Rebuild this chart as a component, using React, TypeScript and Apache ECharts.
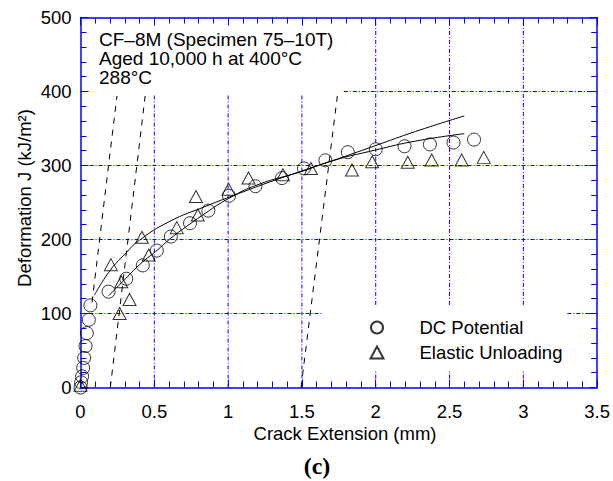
import React, { useEffect, useRef } from "react";
import * as echarts from "echarts";

// ---- data ----
const xTickMax = 3.5;
const yTickMax = 500;
const xGridValues = [0.5, 1, 1.5, 2, 2.5, 3];
const yGridValues = [100, 200, 300, 400];

const dcPotential: number[][] = [
  [0, 0], [0.004, 7], [0.011, 15], [0.018, 26.5], [0.025, 40], [0.034, 56], [0.043, 73.5],
  [0.056, 91.5], [0.067, 111], [0.19, 129.5], [0.31, 147], [0.422, 165], [0.517, 185],
  [0.612, 204], [0.742, 222], [0.866, 239], [1.006, 259], [1.185, 272], [1.365, 283],
  [1.514, 296], [1.659, 307], [1.811, 318], [2.0, 322], [2.195, 326], [2.367, 328.5],
  [2.527, 331], [2.666, 335],
];

const elasticUnloading: number[][] = [
  [0, 3], [0.206, 166], [0.265, 100], [0.276, 143], [0.332, 119], [0.416, 203],
  [0.462, 179], [0.652, 216], [0.782, 258], [0.795, 233], [1.003, 268], [1.138, 283],
  [1.371, 287.5], [1.561, 296], [1.839, 294], [1.976, 305], [2.217, 304.3],
  [2.379, 307.5], [2.582, 307.5], [2.732, 311],
];

const fitUpper: number[][] = [
  [0.095, 125], [0.2, 158], [0.3, 180], [0.4, 199], [0.6, 224], [0.85, 245],
  [1.07, 262], [1.3, 279], [1.52, 294], [1.7, 306], [2.0, 327], [2.27, 346], [2.6, 367],
];

const fitLower: number[][] = [
  [0.19, 124], [0.3, 146], [0.4, 166], [0.51, 184], [0.62, 203], [0.735, 220],
  [0.85, 236], [1.0, 255], [1.2, 274], [1.5, 292], [1.7, 306], [2.0, 321],
  [2.27, 333], [2.6, 343],
];

const bluntingLine: number[][] = [[0.078, 115], [0.247, 394]];
const exclusionLine1: number[][] = [[0.202, 0], [0.438, 394]];
const exclusionLine2: number[][] = [[1.494, 0], [1.74, 394]];

const annotation = ["CF\u20138M (Specimen 75\u201310T)", "Aged 10,000 h at 400\u00b0C", "288\u00b0C"];

const BLUE = "#0000ff";
const FONT = "'Liberation Sans', Arial, Helvetica, sans-serif";

// areas (in axis units) where the dotted grid is interrupted by the text block and the key
const gaps = [
  { x0: 0, x1: 1.784, y0: 395, y1: 500 },
  { x0: 1.636, x1: 3.298, y0: 24, y1: 111.6 },
];

function cut(lo: number, hi: number, holes: number[][]): number[][] {
  let segs = [[lo, hi]];
  holes.forEach(([a, b]) => {
    const next: number[][] = [];
    segs.forEach(([s, e]) => {
      if (b <= s || a >= e) { next.push([s, e]); return; }
      if (a > s) next.push([s, a]);
      if (b < e) next.push([b, e]);
    });
    segs = next;
  });
  return segs;
}

export default function App() {
  const ref = useRef<HTMLDivElement>(null);

  useEffect(() => {
    if (!ref.current) return;
    const chart = echarts.init(ref.current, undefined, { renderer: "svg" });

    const axisCommon = {
      type: "value",
      axisLine: { show: true, onZero: false, lineStyle: { color: BLUE, width: 1.5 } },
      axisTick: { show: true, inside: true, length: 8, lineStyle: { color: BLUE, width: 1 } },
      minorTick: { show: true, splitNumber: 5, length: 6, lineStyle: { color: BLUE, width: 1 } },
      splitLine: { show: false },
    };
    const xAx = (position: string, labels: boolean) => ({
      ...axisCommon, position, min: 0, max: xTickMax, interval: 0.5,
      axisLabel: { show: labels, color: "#000", fontSize: 18.5, fontFamily: FONT, margin: 14 },
    });
    const yAx = (position: string, labels: boolean) => ({
      ...axisCommon, position, min: 0, max: yTickMax, interval: 100,
      axisLabel: { show: labels, color: "#000", fontSize: 18.5, fontFamily: FONT, margin: 9 },
    });

    const gridStyle = { color: BLUE, width: 1, type: [4, 2, 1, 2] };
    const gridSeries: any[] = [];
    xGridValues.forEach((x) => {
      const holes = gaps.filter((g) => x > g.x0 && x < g.x1).map((g) => [g.y0, g.y1]);
      cut(0, yTickMax, holes).forEach(([a, b]) => {
        gridSeries.push({
          type: "line", silent: true, symbol: "none", z: 1, lineStyle: gridStyle,
          data: [[x, a], [x, b]],
        });
      });
    });
    yGridValues.forEach((y) => {
      const holes = gaps.filter((g) => y > g.y0 && y < g.y1).map((g) => [g.x0, g.x1]);
      cut(0, xTickMax, holes).forEach(([a, b]) => {
        gridSeries.push({
          type: "line", silent: true, symbol: "none", z: 1, lineStyle: gridStyle,
          data: [[a, y], [b, y]],
        });
      });
    });

    const dashed = (data: number[][]) => ({
      type: "line", data, symbol: "none", z: 2, silent: true,
      lineStyle: { color: "#000", width: 1, type: [6, 6] },
    });
    const fit = (data: number[][]) => ({
      type: "line", data, symbol: "none", smooth: true, z: 2, silent: true,
      lineStyle: { color: "#000", width: 1 },
    });

    chart.setOption({
      animation: false,
      backgroundColor: "#fff",
      grid: { left: 80.5, right: 14.5, top: 17.5, bottom: 93.5, containLabel: false },
      xAxis: [xAx("bottom", true), xAx("top", false)],
      yAxis: [yAx("left", true), yAx("right", false)],
      legend: {
        orient: "vertical",
        left: 369.5,
        top: 318,
        padding: 0,
        itemWidth: 13,
        itemHeight: 12,
        itemGap: 6,
        data: ["DC Potential", "Elastic Unloading"],
        textStyle: { color: "#000", fontSize: 18.5, fontFamily: FONT, lineHeight: 19, padding: [0, 0, 0, 31] },
      },
      series: [
        ...gridSeries,
        dashed(bluntingLine),
        dashed(exclusionLine1),
        dashed(exclusionLine2),
        fit(fitUpper),
        fit(fitLower),
        {
          name: "DC Potential", type: "scatter", data: dcPotential,
          symbol: "circle", symbolSize: 13, z: 3,
          itemStyle: { color: "rgba(255,255,255,0)", borderColor: "#000", borderWidth: 1 },
        },
        {
          name: "Elastic Unloading", type: "scatter", data: elasticUnloading,
          symbol: "triangle", symbolSize: [13, 12], z: 3,
          itemStyle: { color: "rgba(255,255,255,0)", borderColor: "#000", borderWidth: 1 },
        },
      ],
      graphic: {
        elements: [
          {
            type: "text", z: 6, x: 99, y: 30,
            style: { text: annotation.join("\n"), fill: "#000", font: `19px ${FONT}`, lineHeight: 19, textAlign: "left", textVerticalAlign: "top" },
          },
          {
            type: "text", z: 6, x: 345, y: 433,
            style: { text: "Crack Extension (mm)", fill: "#000", font: `18.5px ${FONT}`, textAlign: "center", textVerticalAlign: "middle" },
          },
          {
            type: "text", z: 6, x: 24, y: 198, rotation: Math.PI / 2,
            style: { text: "Deformation J (kJ/m\u00b2)", fill: "#000", font: `18.5px ${FONT}`, textAlign: "center", textVerticalAlign: "middle" },
          },
          {
            type: "text", z: 6, x: 317, y: 466,
            style: { text: "(c)", fill: "#000", font: `bold 24px 'Liberation Serif', 'Times New Roman', serif`, textAlign: "center", textVerticalAlign: "middle" },
          },
        ],
      },
    });

    return () => chart.dispose();
  }, []);

  return (
    <div
      ref={ref}
      style={{ position: "fixed", left: 0, top: 0, width: 613, height: 481, background: "#fff" }}
    />
  );
}
